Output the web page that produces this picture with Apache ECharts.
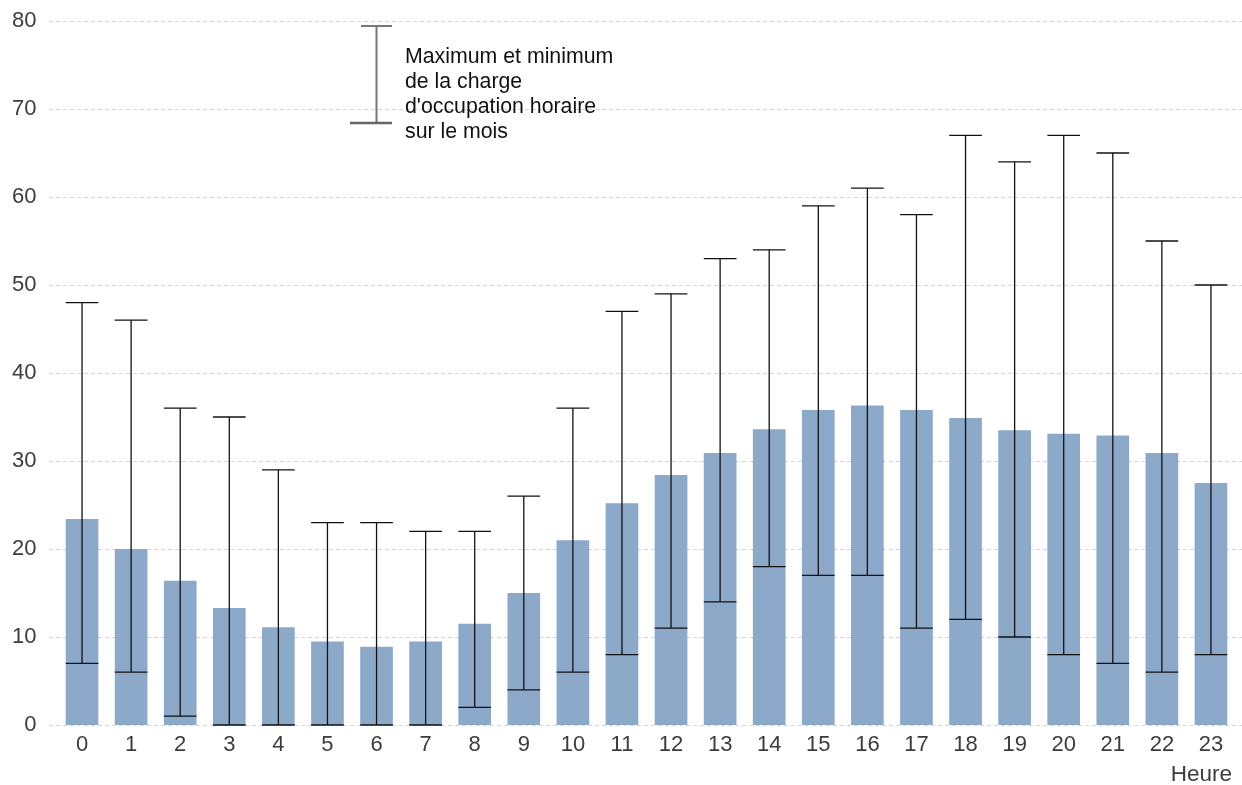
<!DOCTYPE html>
<html>
<head>
<meta charset="utf-8">
<script src="https://cdn.jsdelivr.net/npm/echarts@6/dist/echarts.min.js"></script>
<style>
html,body{margin:0;padding:0;background:#fff;}
#c{width:1242px;height:785px;}
</style>
</head>
<body>
<div id="c"></div>
<script>
const hours = ['0','1','2','3','4','5','6','7','8','9','10','11','12','13','14','15','16','17','18','19','20','21','22','23'];
const moyenne = [23.4,20.0,16.4,13.3,11.1,9.5,8.9,9.5,11.5,15.0,21.0,25.2,28.4,30.9,33.6,35.8,36.3,35.8,34.9,33.5,33.1,32.9,30.9,27.5];
const maximum = [48,46,36,35,29,23,23,22,22,26,36,47,49,53,54,59,61,58,67,64,67,65,55,50];
const minimum = [7,6,1,0,0,0,0,0,2,4,6,8,11,14,18,17,17,11,12,10,8,7,6,8];
const yTicks = {min:0, max:80, interval:10};
const legendLines = ["Maximum et minimum","de la charge","d'occupation horaire","sur le mois"];
const axisName = 'Heure';

const FONT = 'Liberation Sans, Arial, sans-serif';
const chart = echarts.init(document.getElementById('c'), null, {renderer:'canvas'});

const errData = hours.map((h,i)=>[i, minimum[i], maximum[i]]);

chart.setOption({
  animation:false,
  backgroundColor:'#fff',
  grid:[
    {left:57.5, right:6.5, top:21, bottom:60},
    {left:49, right:0, top:21, bottom:60}
  ],
  xAxis:[
    {type:'category', data:hours, gridIndex:0,
     axisLine:{show:false}, axisTick:{show:false},
     axisLabel:{color:'#3c3c3c', fontSize:22, fontFamily:FONT, margin:9}},
    {type:'category', data:hours, gridIndex:1, show:false}
  ],
  yAxis:[
    {type:'value', gridIndex:0, min:yTicks.min, max:yTicks.max, interval:yTicks.interval,
     axisLine:{show:false}, axisTick:{show:false}, splitLine:{show:false},
     axisLabel:{color:'#3c3c3c', fontSize:22, fontFamily:FONT, margin:21}},
    {type:'value', gridIndex:1, min:yTicks.min, max:yTicks.max, interval:yTicks.interval,
     axisLine:{show:false}, axisTick:{show:false}, axisLabel:{show:false},
     splitLine:{show:true, lineStyle:{color:'#d4d4d4', width:1, type:[4,3]}}}
  ],
  series:[
    {type:'bar', data:moyenne, xAxisIndex:0, yAxisIndex:0, barWidth:'66.6%',
     itemStyle:{color:'#8DA9C9'}, z:2},
    {type:'custom', xAxisIndex:0, yAxisIndex:0, data:errData, z:3,
     renderItem:function(params, api){
       const x = api.value(0);
       const top = api.coord([x, api.value(2)]);
       const bot = api.coord([x, api.value(1)]);
       const w = api.size([1,0])[0]*0.666;
       const st = {stroke:'#111', lineWidth:1.3};
       return {type:'group', children:[
         {type:'line', shape:{x1:top[0], y1:top[1], x2:bot[0], y2:bot[1]}, style:st},
         {type:'line', shape:{x1:top[0]-w/2, y1:top[1], x2:top[0]+w/2, y2:top[1]}, style:st},
         {type:'line', shape:{x1:bot[0]-w/2, y1:bot[1], x2:bot[0]+w/2, y2:bot[1]}, style:st}
       ]};
     }}
  ],
  graphic:[
    {type:'line', shape:{x1:376.5, y1:26, x2:376.5, y2:123}, style:{stroke:'#777', lineWidth:2}, z:10},
    {type:'line', shape:{x1:361, y1:26, x2:392, y2:26}, style:{stroke:'#777', lineWidth:2}, z:10},
    {type:'line', shape:{x1:350, y1:123, x2:392, y2:123}, style:{stroke:'#666', lineWidth:2.5}, z:10},
    {type:'text', left:405, top:44, z:10,
     style:{text:legendLines.join('\n'), fontSize:21.3, lineHeight:25.3, fill:'#111', fontFamily:FONT}},
    {type:'text', right:10, top:763, z:10,
     style:{text:axisName, fontSize:22.5, fill:'#3c3c3c', fontFamily:FONT}}
  ]
});
</script>
</body>
</html>
